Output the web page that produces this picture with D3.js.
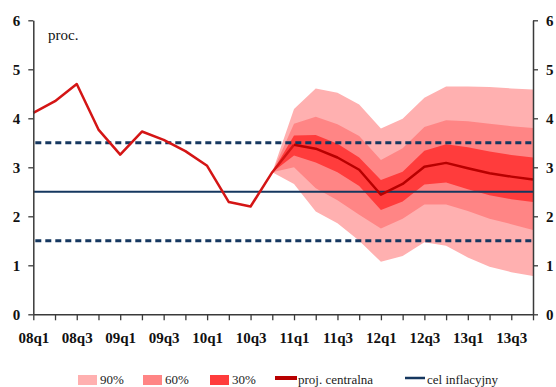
<!DOCTYPE html>
<html><head><meta charset="utf-8">
<script src="https://cdn.jsdelivr.net/npm/d3@7"></script>
<style>body{margin:0;background:#fff}svg{display:block}</style>
</head><body>
<script>
const quarters = ["08q1","08q2","08q3","08q4","09q1","09q2","09q3","09q4","10q1","10q2","10q3","10q4",
  "11q1","11q2","11q3","11q4","12q1","12q2","12q3","12q4","13q1","13q2","13q3","13q4"];
const historyQ = quarters.slice(0,13);
const historyV = [4.11,4.35,4.70,3.77,3.26,3.73,3.56,3.33,3.03,2.29,2.20,2.90,3.46];
const fanQ = quarters.slice(11);
const central = [2.90,3.46,3.38,3.20,2.95,2.44,2.66,3.01,3.09,2.98,2.88,2.81,2.75];
const up90 = [2.90,4.19,4.61,4.52,4.28,3.79,3.99,4.42,4.65,4.65,4.64,4.61,4.59];
const lo90 = [2.90,2.66,2.10,1.86,1.50,1.07,1.19,1.47,1.40,1.16,0.97,0.86,0.78];
const up60 = [2.90,3.89,4.03,3.88,3.64,3.15,3.39,3.82,3.96,3.94,3.89,3.84,3.80];
const lo60 = [2.90,3.00,2.57,2.33,2.03,1.75,1.95,2.24,2.24,2.11,1.95,1.84,1.72];
const up30 = [2.90,3.65,3.66,3.48,3.20,2.74,2.91,3.34,3.47,3.41,3.32,3.25,3.20];
const lo30 = [2.90,3.24,3.10,2.90,2.62,2.13,2.30,2.65,2.69,2.55,2.43,2.35,2.29];
const target = 2.5, bandLow = 1.5, bandHigh = 3.5;
const yTicks = [0,1,2,3,4,5,6];
const legendItems = ["90%","60%","30%","proj. centralna","cel inflacyjny"];

const W=556,H=387;
const svg = d3.select("body").append("svg").attr("width",W).attr("height",H);
const x = d3.scalePoint().domain(quarters).range([33.3,533]);
const y = d3.scaleLinear().domain([0,6]).range([314.3,20.3]);
const navy="#15375f", axisCol="#3a3a3a";
const font="'Liberation Serif','DejaVu Serif',serif";

const bands=[[up90,lo90,"#ffb0b0"],[up60,lo60,"#ff8585"],[up30,lo30,"#ff3c3c"]];
bands.forEach(([u,l,c])=>{
  const area=d3.area().x((d,i)=>x(fanQ[i])).y0((d,i)=>y(l[i])).y1((d,i)=>y(u[i]));
  svg.append("path").datum(u).attr("d",area).attr("fill",c);
});

// target lines
svg.append("line").attr("x1",x(quarters[0])).attr("x2",x(quarters[23])).attr("y1",y(target)).attr("y2",y(target))
  .attr("stroke",navy).attr("stroke-width",2);
[bandLow,bandHigh].forEach(v=>svg.append("line").attr("x1",x(quarters[0])+2).attr("x2",x(quarters[23])).attr("y1",y(v)).attr("y2",y(v))
  .attr("stroke",navy).attr("stroke-width",3).attr("stroke-dasharray","6,4"));

// history line
svg.append("path").datum(historyV).attr("fill","none").attr("stroke","#d41515").attr("stroke-width",2.5)
  .attr("stroke-linejoin","round")
  .attr("d",d3.line().x((d,i)=>x(historyQ[i])).y(d=>y(d)));
// central projection
svg.append("path").datum(central.slice(1)).attr("fill","none").attr("stroke","#b80000").attr("stroke-width",2.5)
  .attr("stroke-linejoin","round")
  .attr("d",d3.line().x((d,i)=>x(fanQ[i+1])).y(d=>y(d)));

// axes
const styleAxis=g=>{g.attr("font-family",null).attr("font-size",null);
  g.select(".domain").attr("stroke",axisCol).attr("stroke-width",1.5);
  g.selectAll(".tick line").attr("stroke",axisCol).attr("stroke-width",1.3);
  g.selectAll("text").style("font-family",font).style("font-weight","bold").style("font-size","15px").attr("fill","#111");};
svg.append("g").attr("transform",`translate(${x(quarters[0])},0)`)
  .call(d3.axisLeft(y).tickValues(yTicks).tickFormat(d3.format("d")).tickSize(5).tickSizeOuter(0).tickPadding(8)).call(styleAxis);
svg.append("g").attr("transform",`translate(${x(quarters[23])},0)`)
  .call(d3.axisRight(y).tickValues(yTicks).tickFormat(d3.format("d")).tickSize(5).tickSizeOuter(0).tickPadding(8)).call(styleAxis);
svg.append("g").attr("transform",`translate(0,${y(0)})`)
  .call(d3.axisBottom(x).tickSize(6).tickSizeOuter(0).tickPadding(12).tickFormat((d,i)=>i%2===0?d:""))
  .call(styleAxis);

svg.append("text").attr("x",48).attr("y",40).text("proc.").style("font-family",font).style("font-size","15px").attr("fill","#111");

// legend
const lg=svg.append("g").style("font-family",font).style("font-size","13px").attr("fill","#222");
const sw=[[78,"#ffb0b0"],[143,"#ff8585"],[210,"#ff3c3c"]];
sw.forEach(([sx,c],i)=>{
  lg.append("rect").attr("x",sx).attr("y",375).attr("width",19).attr("height",10).attr("fill",c);
  lg.append("text").attr("x",sx+22).attr("y",384).text(legendItems[i]);
});
lg.append("line").attr("x1",275).attr("x2",297).attr("y1",378).attr("y2",378).attr("stroke","#b80000").attr("stroke-width",4);
lg.append("text").attr("x",298).attr("y",384).text(legendItems[3]);
lg.append("line").attr("x1",405).attr("x2",425).attr("y1",378).attr("y2",378).attr("stroke",navy).attr("stroke-width",2.5);
lg.append("text").attr("x",427).attr("y",384).text(legendItems[4]);
</script>
</body></html>
